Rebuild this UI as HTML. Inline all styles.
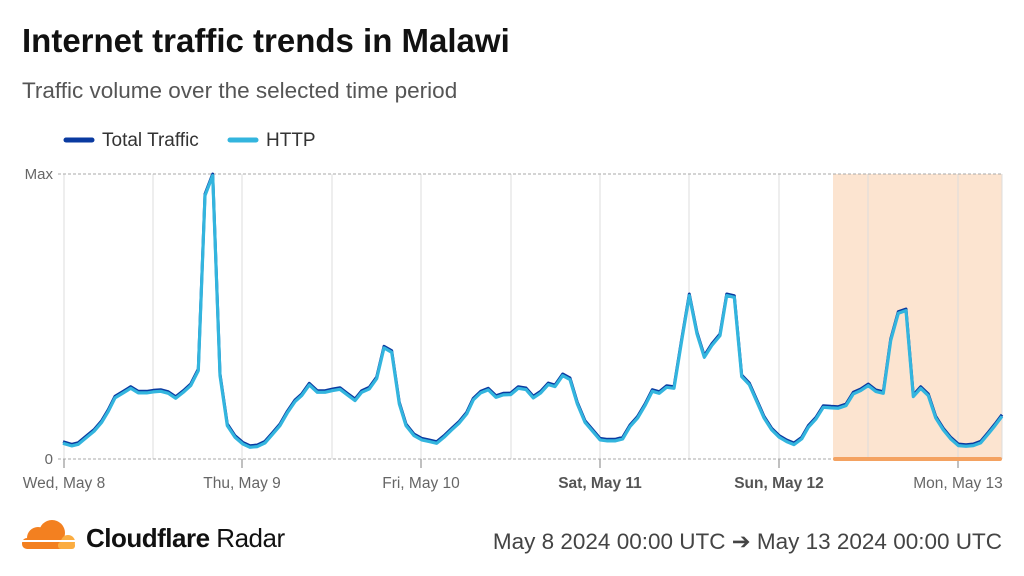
<!DOCTYPE html>
<html><head><meta charset="utf-8"><style>
body{margin:0;width:1024px;height:576px;background:#fff;overflow:hidden;font-family:"Liberation Sans",sans-serif}
</style></head><body>
<svg width="1024" height="576" xmlns="http://www.w3.org/2000/svg" style="position:absolute;left:0;top:0">
<text x="22" y="52" font-size="33" font-weight="bold" fill="#111">Internet traffic trends in Malawi</text>
<text x="22" y="98" font-size="22.5" fill="#555">Traffic volume over the selected time period</text>
<line x1="66" y1="140" x2="92" y2="140" stroke="#0a3aa0" stroke-width="5" stroke-linecap="round"/>
<text x="102" y="146" font-size="19" fill="#333">Total Traffic</text>
<line x1="230" y1="140" x2="256" y2="140" stroke="#33b5de" stroke-width="5" stroke-linecap="round"/>
<text x="266" y="146" font-size="19" fill="#333">HTTP</text>
<rect x="833" y="174" width="169" height="285" fill="#fce4d0"/>
<g stroke="#ddd" stroke-width="1">
<line x1="153" y1="174" x2="153" y2="459"/><line x1="242" y1="174" x2="242" y2="459"/><line x1="332" y1="174" x2="332" y2="459"/><line x1="421" y1="174" x2="421" y2="459"/><line x1="511" y1="174" x2="511" y2="459"/><line x1="600" y1="174" x2="600" y2="459"/><line x1="689" y1="174" x2="689" y2="459"/><line x1="779" y1="174" x2="779" y2="459"/><line x1="868" y1="174" x2="868" y2="459"/><line x1="958" y1="174" x2="958" y2="459"/><line x1="1002" y1="174" x2="1002" y2="459"/><line x1="64" y1="174" x2="64" y2="459"/>
</g>
<g stroke="#aaa" stroke-width="1" stroke-dasharray="3,2">
<line x1="58" y1="174" x2="1002" y2="174"/><line x1="58" y1="459" x2="1002" y2="459"/>
</g>
<g stroke="#aaa" stroke-width="1.5"><line x1="64" y1="459" x2="64" y2="468"/><line x1="242" y1="459" x2="242" y2="468"/><line x1="421" y1="459" x2="421" y2="468"/><line x1="600" y1="459" x2="600" y2="468"/><line x1="779" y1="459" x2="779" y2="468"/><line x1="958" y1="459" x2="958" y2="468"/></g>
<line x1="835" y1="459" x2="1000" y2="459" stroke="#f4a261" stroke-width="4" stroke-linecap="round"/>
<text x="53" y="179" font-size="15" fill="#666" text-anchor="end">Max</text>
<text x="53" y="464" font-size="15" fill="#666" text-anchor="end">0</text>
<g font-size="15.5" fill="#666" text-anchor="middle">
<text x="64" y="488">Wed, May 8</text><text x="242" y="488">Thu, May 9</text><text x="421" y="488">Fri, May 10</text>
<text x="600" y="488" font-weight="bold" fill="#555">Sat, May 11</text><text x="779" y="488" font-weight="bold" fill="#555">Sun, May 12</text><text x="958" y="488">Mon, May 13</text>
</g>
<defs><polyline id="d" points="63,442.7 71.7,445.3 78.3,443.7 86.7,436.7 94,430.7 101.7,421.7 108.3,410.7 115,397.3 123.3,392.3 130.7,387.7 138.3,392.3 146.7,392.3 153.3,391.3 160.7,390.7 168.3,392.7 175.7,397.7 183.3,391.7 190.7,385 198.3,370 205,195 212.7,175 220,375 227.3,425 235,436.7 242.7,443.3 250,446.7 257.3,446 265,442.3 272.3,434 280,425 287.3,412.3 295,401 301.7,395 309.3,384.3 317.3,391.7 325,391.7 332.7,390 340,388.7 347.3,394.3 355,400 361.7,391.7 369.3,388.3 376.7,378 384,347.3 391.7,351.7 399.3,403.3 406,425 414,435 421.7,439.3 429.3,441 436.7,442.7 444,436.7 451.7,429.3 459.3,422.3 466.7,413.3 473.3,399.3 480.7,392.3 488.3,389.3 496,396.7 503.3,394.3 510.7,394 518.3,387.7 526,389 533.3,397.3 540.7,392.3 548.3,384 555,386 562.7,375 570,379 577.3,403.3 585,421.7 592.7,430.7 600,439.3 607.3,440.3 615,440.3 622.7,438.3 630,426 637.7,417.3 645,405 652.3,390.7 659.3,392.7 666.7,386.7 674,387.7 681.7,340 689.3,295 697,333.3 704.3,356.7 711.7,345 720,335 726.7,295 734.3,296.7 741.7,376 749.3,384 756.7,400.7 764,417.3 771.7,429.3 779.3,436.7 786.7,441 794,444 801.7,438.3 808.3,426.7 816,418.3 823.3,406.7 831,407.3 838.3,407.7 846,405 853.3,393.3 860.7,390 868.3,385 876,391 883.3,392.7 890.7,340 898.3,312.7 906,310 913.3,396 920.7,387.7 928.3,395 935.7,417.3 943.3,429.3 950.7,438.3 958.3,445 966,445.7 973.3,445 980.7,442.3 988.3,433.3 995,425 1002,415.7"/></defs>
<use href="#d" transform="translate(0,-1)" fill="none" stroke="#0a3aa0" stroke-width="3" stroke-linejoin="round"/>
<use href="#d" transform="translate(0,0.6)" fill="none" stroke="#33b5de" stroke-width="3.2" stroke-linejoin="round"/>
<g fill="#f38020"><circle cx="38" cy="538" r="11"/><circle cx="52" cy="533" r="13"/><rect x="22" y="538" width="50" height="11" rx="5"/></g>
<g fill="#fbad41"><circle cx="68" cy="542" r="7"/><rect x="58" y="542" width="17" height="7" rx="3"/></g>
<rect x="20" y="540" width="56" height="2" fill="#fff"/>
<text x="86" y="547" font-size="26" font-weight="bold" fill="#111" letter-spacing="-0.5">Cloudflare <tspan font-weight="normal">Radar</tspan></text>
<text x="1002" y="549" font-size="22.5" fill="#444" text-anchor="end">May 8 2024 00:00 UTC ➔ May 13 2024 00:00 UTC</text>
</svg>
</body></html>
